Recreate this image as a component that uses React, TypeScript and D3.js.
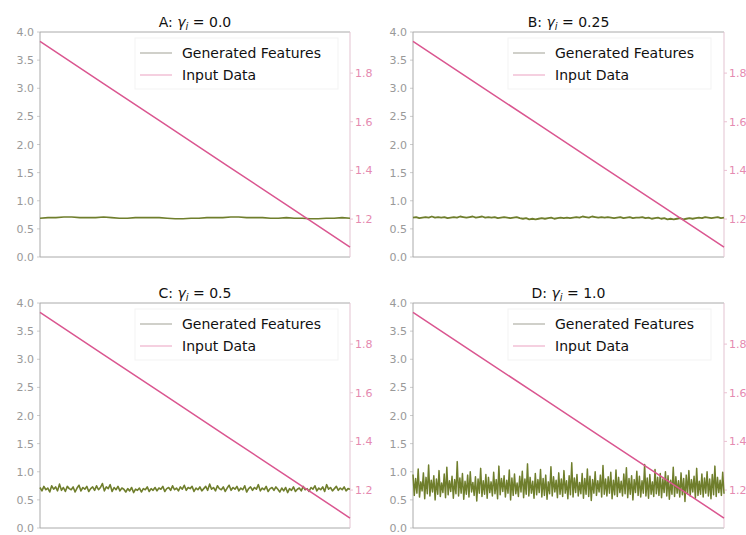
import React from "react";
import * as d3 from "d3";

// panel titles / gamma values
const panelLetters = ["A", "B", "C", "D"];
const gammaLabels = ["0.0", "0.25", "0.5", "1.0"];

// left axis (generated features) and right axis (input data) ticks
const leftTicks = [0, 0.5, 1.0, 1.5, 2.0, 2.5, 3.0, 3.5, 4.0];
const rightTicks = [1.2, 1.4, 1.6, 1.8];
const leftDomain = [0, 4];
const rightDomain = [1.044, 1.969];

// input data: the same straight decline in every panel
const inputData = [1.93, 1.761, 1.592, 1.423, 1.254, 1.085];

// generated features
const featuresA = [
  0.69, 0.7, 0.7, 0.71, 0.71, 0.7, 0.7, 0.7, 0.71, 0.7, 0.69, 0.69, 0.7, 0.7, 0.7, 0.7, 0.69, 0.68, 0.68, 0.69,
  0.69, 0.7, 0.7, 0.7, 0.71, 0.71, 0.7, 0.7, 0.7, 0.69, 0.69, 0.7, 0.69, 0.69, 0.68, 0.68, 0.69, 0.69, 0.7, 0.69,
];

const featuresB = [
  0.7, 0.71, 0.69, 0.7, 0.71, 0.7, 0.72, 0.7, 0.71, 0.7,
  0.71, 0.69, 0.7, 0.71, 0.7, 0.72, 0.71, 0.7, 0.71, 0.72,
  0.7, 0.71, 0.72, 0.7, 0.71, 0.7, 0.71, 0.69, 0.7, 0.71,
  0.7, 0.69, 0.7, 0.71, 0.69, 0.68, 0.69, 0.67, 0.68, 0.67,
  0.68, 0.69, 0.68, 0.69, 0.7, 0.68, 0.69, 0.7, 0.69, 0.7,
  0.69, 0.7, 0.71, 0.7, 0.72, 0.71, 0.7, 0.72, 0.71, 0.7,
  0.71, 0.7, 0.71, 0.7, 0.69, 0.7, 0.71, 0.69, 0.7, 0.71,
  0.69, 0.7, 0.7, 0.71, 0.69, 0.7, 0.68, 0.69, 0.7, 0.68,
  0.69, 0.67, 0.68, 0.67, 0.68, 0.69, 0.67, 0.68, 0.69, 0.68,
  0.69, 0.7, 0.69, 0.71, 0.7, 0.69, 0.7, 0.71, 0.69, 0.7,
];

const featuresC = [
  0.72, 0.66, 0.74, 0.68, 0.71, 0.64, 0.75, 0.69, 0.73, 0.66,
  0.78, 0.67, 0.72, 0.65, 0.74, 0.7, 0.68, 0.73, 0.64, 0.71,
  0.76, 0.66, 0.72, 0.69, 0.74, 0.65, 0.7, 0.73, 0.67, 0.75,
  0.68, 0.72, 0.79, 0.66, 0.73, 0.7, 0.77, 0.65, 0.72, 0.68,
  0.74, 0.66, 0.71, 0.69, 0.64, 0.7, 0.66, 0.72, 0.63, 0.69,
  0.67, 0.71, 0.64, 0.7, 0.68, 0.73, 0.65, 0.7, 0.67, 0.72,
  0.66, 0.71, 0.69, 0.74, 0.65, 0.7, 0.72, 0.67, 0.75, 0.68,
  0.71, 0.66, 0.73, 0.69, 0.76, 0.67, 0.72, 0.7, 0.74, 0.65,
  0.71, 0.68, 0.73, 0.66, 0.7, 0.74, 0.67, 0.78, 0.69, 0.72,
  0.66, 0.75, 0.7, 0.68, 0.73, 0.65, 0.71, 0.76, 0.67, 0.72,
  0.69, 0.74, 0.66, 0.71, 0.68, 0.75, 0.64, 0.7, 0.73, 0.67,
  0.72, 0.69, 0.77, 0.66, 0.71, 0.68, 0.74, 0.65, 0.7, 0.72,
  0.67, 0.73, 0.69, 0.64, 0.71, 0.66, 0.72, 0.63, 0.7, 0.67,
  0.73, 0.65, 0.69, 0.71, 0.66, 0.74, 0.68, 0.7, 0.65, 0.72,
  0.69, 0.75, 0.66, 0.71, 0.68, 0.73, 0.65, 0.77, 0.69, 0.72,
  0.66, 0.7, 0.74, 0.67, 0.71, 0.68, 0.73, 0.66, 0.7, 0.69,
];

const featuresD = [
  0.95, 0.58, 0.88, 0.62, 1.05, 0.55, 0.82, 0.66, 0.98, 0.52,
  0.9, 0.61, 1.12, 0.57, 0.85, 0.64, 0.93, 0.5, 0.87, 0.6,
  1.02, 0.56, 0.8, 0.63, 0.96, 0.54, 1.08, 0.59, 0.84, 0.65,
  0.92, 0.53, 0.86, 0.61, 1.18, 0.57, 0.89, 0.62, 0.97, 0.51,
  0.83, 0.6, 0.94, 0.55, 1.0, 0.64, 0.81, 0.58, 0.91, 0.48,
  0.87, 0.62, 1.06, 0.56, 0.84, 0.6, 0.95, 0.53, 0.9, 0.63,
  0.82, 0.57, 0.99, 0.61, 0.86, 0.52, 1.1, 0.59, 0.88, 0.65,
  0.93, 0.55, 0.85, 0.62, 1.03, 0.5, 0.89, 0.58, 0.96, 0.61,
  0.8, 0.56, 0.92, 0.64, 1.01, 0.54, 0.87, 0.6, 1.14, 0.57,
  0.9, 0.62, 0.83, 0.53, 0.97, 0.59, 0.86, 0.63, 1.04, 0.55,
  0.88, 0.58, 0.94, 0.51, 0.82, 0.61, 1.09, 0.57, 0.91, 0.64,
  0.85, 0.54, 0.98, 0.6, 0.87, 0.56, 1.02, 0.62, 0.84, 0.52,
  0.93, 0.59, 1.16, 0.55, 0.89, 0.63, 0.95, 0.57, 0.81, 0.61,
  0.97, 0.53, 0.88, 0.6, 1.05, 0.56, 0.92, 0.49, 0.86, 0.62,
  1.0, 0.58, 0.84, 0.64, 0.94, 0.55, 1.11, 0.6, 0.87, 0.57,
  0.91, 0.62, 0.99, 0.52, 0.85, 0.59, 1.03, 0.56, 0.9, 0.63,
  0.83, 0.57, 0.96, 0.61, 1.07, 0.54, 0.88, 0.6, 0.93, 0.5,
  0.86, 0.63, 1.01, 0.58, 0.92, 0.55, 0.84, 0.62, 1.13, 0.57,
  0.89, 0.53, 0.95, 0.6, 0.82, 0.56, 1.04, 0.61, 0.9, 0.58,
  0.97, 0.54, 0.87, 0.63, 1.0, 0.57, 0.93, 0.51, 0.85, 0.6,
  1.08, 0.56, 0.91, 0.62, 0.84, 0.55, 0.98, 0.59, 0.88, 0.47,
  0.94, 0.61, 1.02, 0.57, 0.86, 0.64, 0.92, 0.53, 1.06, 0.58,
  0.83, 0.6, 0.96, 0.55, 0.89, 0.62, 1.0, 0.57, 0.87, 0.52,
  0.95, 0.59, 1.1, 0.56, 0.9, 0.63, 0.85, 0.58, 0.99, 0.61,
];

const featureSeries = [featuresA, featuresB, featuresC, featuresD];
const featureWidths = [1.6, 1.8, 1.6, 1.5];

const W = 746;
const H = 535;
const FONT = "DejaVu Sans, sans-serif";
const OLIVE = "#6f7e2c";
const PINK = "#da5690";

// plot frames for the 2x2 grid
const panelBoxes = [
  { left: 40, right: 350, top: 32, bottom: 257 },
  { left: 413, right: 724, top: 32, bottom: 257 },
  { left: 40, right: 350, top: 303, bottom: 528 },
  { left: 413, right: 724, top: 303, bottom: 528 },
];

const Panel = ({ idx }: { idx: number }) => {
  const box = panelBoxes[idx];
  const feats = featureSeries[idx];
  const yL = d3.scaleLinear().domain(leftDomain).range([box.bottom, box.top]);
  const yR = d3.scaleLinear().domain(rightDomain).range([box.bottom, box.top]);
  const xF = d3.scaleLinear().domain([0, feats.length - 1]).range([box.left, box.right]);
  const xI = d3.scaleLinear().domain([0, inputData.length - 1]).range([box.left, box.right]);

  const featLine = d3.line<number>().x((_, i) => xF(i)).y((d) => yL(d));
  const inputLine = d3.line<number>().x((_, i) => xI(i)).y((d) => yR(d));
  const fmt = d3.format(".1f");
  const cx = (box.left + box.right) / 2;
  const lgX = box.left + 95;
  const lgY = box.top + 6;

  return (
    <g>
      {/* title */}
      <text x={cx} y={box.top - 5} textAnchor="middle" fontSize={14} fontFamily={FONT} fill="#111">
        {panelLetters[idx]}:{" "}
        <tspan fontStyle="italic">γ</tspan>
        <tspan fontStyle="italic" fontSize={10} dy={3}>i</tspan>
        <tspan dy={-3}> = {gammaLabels[idx]}</tspan>
      </text>

      {/* left ticks */}
      {leftTicks.map((t) => (
        <g key={"l" + t}>
          <line x1={box.left - 3} x2={box.left} y1={yL(t)} y2={yL(t)} stroke="#ccc" />
          <text x={box.left - 6} y={yL(t) + 4} textAnchor="end" fontSize={11} fontFamily={FONT} fill="#999">
            {fmt(t)}
          </text>
        </g>
      ))}
      {/* right ticks */}
      {rightTicks.map((t) => (
        <g key={"r" + t}>
          <line x1={box.right} x2={box.right + 3} y1={yR(t)} y2={yR(t)} stroke="#ebc0d2" />
          <text x={box.right + 5} y={yR(t) + 4} textAnchor="start" fontSize={11} fontFamily={FONT} fill="#e58ab0">
            {fmt(t)}
          </text>
        </g>
      ))}

      {/* spines */}
      <line x1={box.left} x2={box.left} y1={box.top} y2={box.bottom} stroke="#aaa" />
      <line x1={box.left} x2={box.right} y1={box.top} y2={box.top} stroke="#aaa" />
      <line x1={box.left} x2={box.right} y1={box.bottom} y2={box.bottom} stroke="#aaa" />
      <line x1={box.right} x2={box.right} y1={box.top} y2={box.bottom} stroke="#e3c3d1" />

      {/* series */}
      <path d={featLine(feats) || ""} fill="none" stroke={OLIVE} strokeWidth={featureWidths[idx]} strokeLinejoin="round" />
      <path d={inputLine(inputData) || ""} fill="none" stroke={PINK} strokeWidth={1.5} />

      {/* legend */}
      <rect x={lgX} y={lgY} width={203} height={51} fill="#fff" fillOpacity={0.7} stroke="#f3f3f3" />
      <line x1={lgX + 5} x2={lgX + 37} y1={lgY + 15} y2={lgY + 15} stroke="#8a8a7a" strokeOpacity={0.8} />
      <text x={lgX + 47} y={lgY + 20} fontSize={14} fontFamily={FONT} fill="#111">
        Generated Features
      </text>
      <line x1={lgX + 5} x2={lgX + 37} y1={lgY + 37} y2={lgY + 37} stroke={PINK} strokeOpacity={0.55} />
      <text x={lgX + 47} y={lgY + 42} fontSize={14} fontFamily={FONT} fill="#111">
        Input Data
      </text>
    </g>
  );
};

export default function App() {
  return (
    <svg
      width={W}
      height={H}
      style={{ position: "absolute", left: 0, top: 0, background: "#fff" }}
    >
      {panelBoxes.map((_, i) => (
        <Panel key={i} idx={i} />
      ))}
    </svg>
  );
}
